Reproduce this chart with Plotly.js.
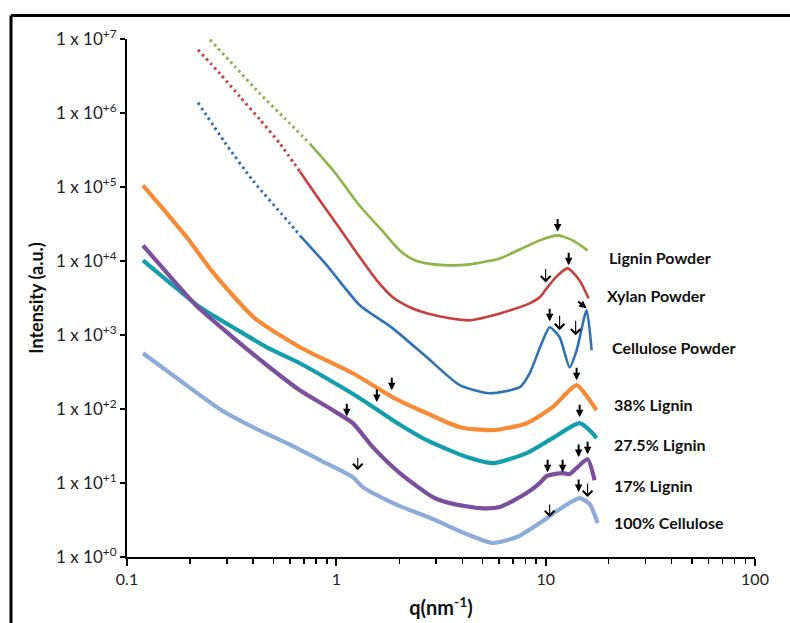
<!DOCTYPE html>
<html><head><meta charset="utf-8">
<script src="https://cdn.plot.ly/plotly-3.0.1.min.js"></script>
<style>html,body{margin:0;padding:0;background:#fff}#chart{width:790px;height:623px}</style>
</head><body><div id="chart"></div>
<script>
// ---- data (q in nm^-1, intensity in a.u.) ----
const qLignin = [0.249,0.328,0.431,0.568,0.747,0.984,1.266,1.667,2.010,2.318,2.704,3.482,4.337,6.031,7.514,9.363,11.41,13.46,15.86];
const iLignin = [9.79e6,4.23e6,1.83e6,8.40e5,3.86e5,1.57e5,5.99e4,2.51e4,1.39e4,1.05e4,9.29e3,8.73e3,9.0e3,1.08e4,1.43e4,1.90e4,2.22e4,1.90e4,1.39e4];

const qXylan = [0.2183,0.2779,0.3463,0.4313,0.5374,0.6694,0.8342,1.039,1.295,1.561,1.861,2.243,2.704,3.482,4.337,5.585,6.733,8.387,9.363,10.11,11.29,12.74,14.53,16.04];
const iXylan = [7.17e6,3.40e6,1.66e6,8.15e5,3.86e5,1.62e5,6.58e4,2.75e4,1.12e4,5.47e3,3.23e3,2.37e3,1.96e3,1.68e3,1.58e3,1.84e3,2.15e3,2.68e3,3.23e3,4.27e3,6.20e3,7.94e3,5.47e3,3.13e3];

const qCellPowder = [0.2183,0.2936,0.3994,0.5998,0.6694,0.9010,1.295,1.861,2.704,3.886,5.404,7.514,8.387,9.570,10.45,11.66,13.02,14.06,15.69,16.58];
const iCellPowder = [1.38e6,3.99e5,1.22e5,3.22e4,2.22e4,8.73e3,2.52e3,1.23e3,500,210,163,197,304,773,1270,931,366,622,2150,622];

const qL38 = [0.1192,0.1552,0.1934,0.2573,0.4083,0.6843,1.199,1.861,2.704,3.886,5.585,8.114,10.80,14.06,16.22,17.51];
const iL38 = [1.05e5,4.39e4,2.08e4,7.02e3,1.68e3,662,304,144,87.7,56.8,51.7,64.3,106,210,131,96.3];

const qL27 = [0.1192,0.1552,0.2230,0.3206,0.4660,0.6694,0.9312,1.295,1.861,2.704,4.197,5.585,8.114,10.80,14.53,16.76,17.51];
const iL27 = [1.02e4,5.47e3,2.37e3,1.27e3,682,415,245,140,70.6,37.9,22.4,18.6,25.3,40.4,64.3,47.1,40.4];

const qL17 = [0.1192,0.1604,0.2158,0.3206,0.4660,0.6694,0.9623,1.199,1.494,2.010,2.888,3.482,4.842,6.031,8.114,9.363,10.11,12.05,13.02,14.21,15.86,17.13];
const iL17 = [1.62e4,6.20e3,2.45e3,931,390,179,96.3,64.3,30.5,13.6,6.45,5.35,4.58,4.73,7.31,9.97,12.4,13.6,13.2,16.4,21.0,10.9];

const qCell100 = [0.1192,0.1733,0.2779,0.3994,0.5804,0.8342,1.199,1.338,1.742,2.010,2.888,4.197,5.585,7.271,9.676,11.29,14.53,16.22,17.71];
const iCell100 = [566,260,99.4,56.8,34.5,20.4,12.0,8.81,5.88,4.88,3.26,2.04,1.55,1.86,3.06,4.18,6.26,5.19,2.88];

const seriesNames = ['Lignin Powder','Xylan Powder','Cellulose Powder','38% Lignin','27.5% Lignin','17% Lignin','100% Cellulose'];
const xTickVals = [0.1,1,10,100];
const xTickText = ['0.1','1','10','100'];
const yTickVals = [1,10,100,1e3,1e4,1e5,1e6,1e7];
const yTickText = ['+0','+1','+2','+3','+4','+5','+6','+7'].map(e => '1 x 10<sup>' + e + '</sup>');

// arrow markers: [q, intensity at tip, dx, dy, filled?]
const arrowTips = [
  [11.41,2.51e4,0,-14,true],[12.88,8.73e3,0,-14,true],[10.45,1.53e3,0,-14,true],[15.69,2.29e3,-10,-8,true],
  [14.06,245,0,-14,true],[1.840,179,0,-14,true],[1.561,124,0,-14,true],[14.53,77.5,0,-14,true],
  [1.122,80,0,-14,true],[10.22,14.0,0,-14,true],[12.05,14.0,0,-14,true],[14.37,22.4,0,-14,true],
  [15.86,24.5,0,-14,true],[14.37,7.54,0,-14,true],
  [10.0,5.14e3,0,-15,false],[11.66,1.16e3,0,-16,false],[13.91,990,0,-16,false],
  [1.266,14.9,0,-14,false],[10.45,3.47,0,-14,false],[15.86,6.45,0,-15,false]
];

const colors = ['#8db446','#c8403e','#2e72b4','#f68b33','#139ead','#7b4f9c','#8dabd8'];
const allQ = [qLignin,qXylan,qCellPowder,qL38,qL27,qL17,qCell100];
const allI = [iLignin,iXylan,iCellPowder,iL38,iL27,iL17,iCell100];

const traces = [];
allQ.forEach((qs, k) => {
  const is = allI[k];
  if (k < 3) {
    let split = qs.findIndex(v => v >= 0.6);
    traces.push({x: qs.slice(0, split + 1), y: is.slice(0, split + 1), mode: 'lines', name: seriesNames[k],
      line: {color: colors[k], width: 3, dash: '2.5px,3.5px', shape: 'spline', smoothing: 0.6}, hoverinfo: 'x+y'});
    traces.push({x: qs.slice(split), y: is.slice(split), mode: 'lines', name: seriesNames[k],
      line: {color: colors[k], width: 2.6, shape: 'spline', smoothing: 0.6}, hoverinfo: 'x+y'});
  } else {
    traces.push({x: qs, y: is, mode: 'lines', name: seriesNames[k],
      line: {color: colors[k], width: 4.2, shape: 'spline', smoothing: 0.6}, hoverinfo: 'x+y'});
  }
});

const W = 790, H = 623, L = 127, R = 755, T = 38.5, B = 557;
const px = v => (v - L) / (R - L);
const py = v => (B - v) / (B - T);

const labelPos = [[607,257],[605,295],[610,347],[612,404],[612,444],[612,485],[612,522]];
const annotations = seriesNames.map((n, k) => ({
  text: '<b>' + n + '</b>', xref: 'paper', yref: 'paper', x: px(labelPos[k][0]), y: py(labelPos[k][1]),
  xanchor: 'left', yanchor: 'middle', showarrow: false,
  font: {family: 'Lato, "Open Sans", sans-serif', size: 16, color: '#111'}
}));
arrowTips.forEach(a => {
  annotations.push({
    x: Math.log10(a[0]), y: Math.log10(a[1]), xref: 'x', yref: 'y', text: '', showarrow: true,
    ax: a[2], ay: a[3], axref: 'pixel', ayref: 'pixel',
    arrowcolor: '#000', arrowwidth: a[4] ? 2 : 1.1, arrowhead: a[4] ? 2 : 4, arrowsize: a[4] ? 0.75 : 1.7,
    font: {size: 1}
  });
});

const minorVals = [];
[0.1, 1, 10].forEach(d => { for (let m = 2; m <= 9; m++) minorVals.push(+(m * d).toFixed(3)); });

const layout = {
  width: W, height: H,
  margin: {l: L, r: W - R, t: T, b: H - B, pad: 0},
  paper_bgcolor: '#fff', plot_bgcolor: '#fff',
  showlegend: false,
  font: {family: 'Lato, "Open Sans", sans-serif', color: '#111'},
  xaxis: {
    type: 'log', range: [-1, 2], showgrid: false, zeroline: false,
    showline: true, linecolor: '#000', linewidth: 2,
    ticks: 'outside', ticklen: 7, tickwidth: 2, tickcolor: '#000',
    tickmode: 'array', tickvals: xTickVals, ticktext: xTickText,
    tickfont: {size: 16, color: '#222'},
    minor: {tickmode: 'array', tickvals: minorVals, ticks: 'outside', ticklen: 5, tickwidth: 1.5, tickcolor: '#000', showgrid: false},
    title: {text: '<b>q(nm<sup>-1</sup>)</b>', font: {size: 20, color: '#111'}, standoff: 14}
  },
  yaxis: {
    type: 'log', range: [0, 7], showgrid: false, zeroline: false,
    showline: true, linecolor: '#000', linewidth: 2,
    ticks: 'outside', ticklen: 5, tickwidth: 2, tickcolor: '#000',
    tickmode: 'array', tickvals: yTickVals, ticktext: yTickText,
    tickfont: {size: 17, color: '#222'},
    title: {text: '<b>Intensity (a.u.)</b>', font: {size: 18, color: '#111'}, standoff: 8}
  },
  annotations: annotations,
  shapes: [
    {type: 'line', xref: 'paper', yref: 'paper', x0: px(11), x1: px(11), y0: py(640), y1: py(15), line: {color: '#000', width: 3}},
    {type: 'line', xref: 'paper', yref: 'paper', x0: px(11), x1: px(800), y0: py(15), y1: py(15), line: {color: '#000', width: 3}}
  ]
};

Plotly.newPlot('chart', traces, layout, {displayModeBar: false, staticPlot: true});
</script>
</body></html>
